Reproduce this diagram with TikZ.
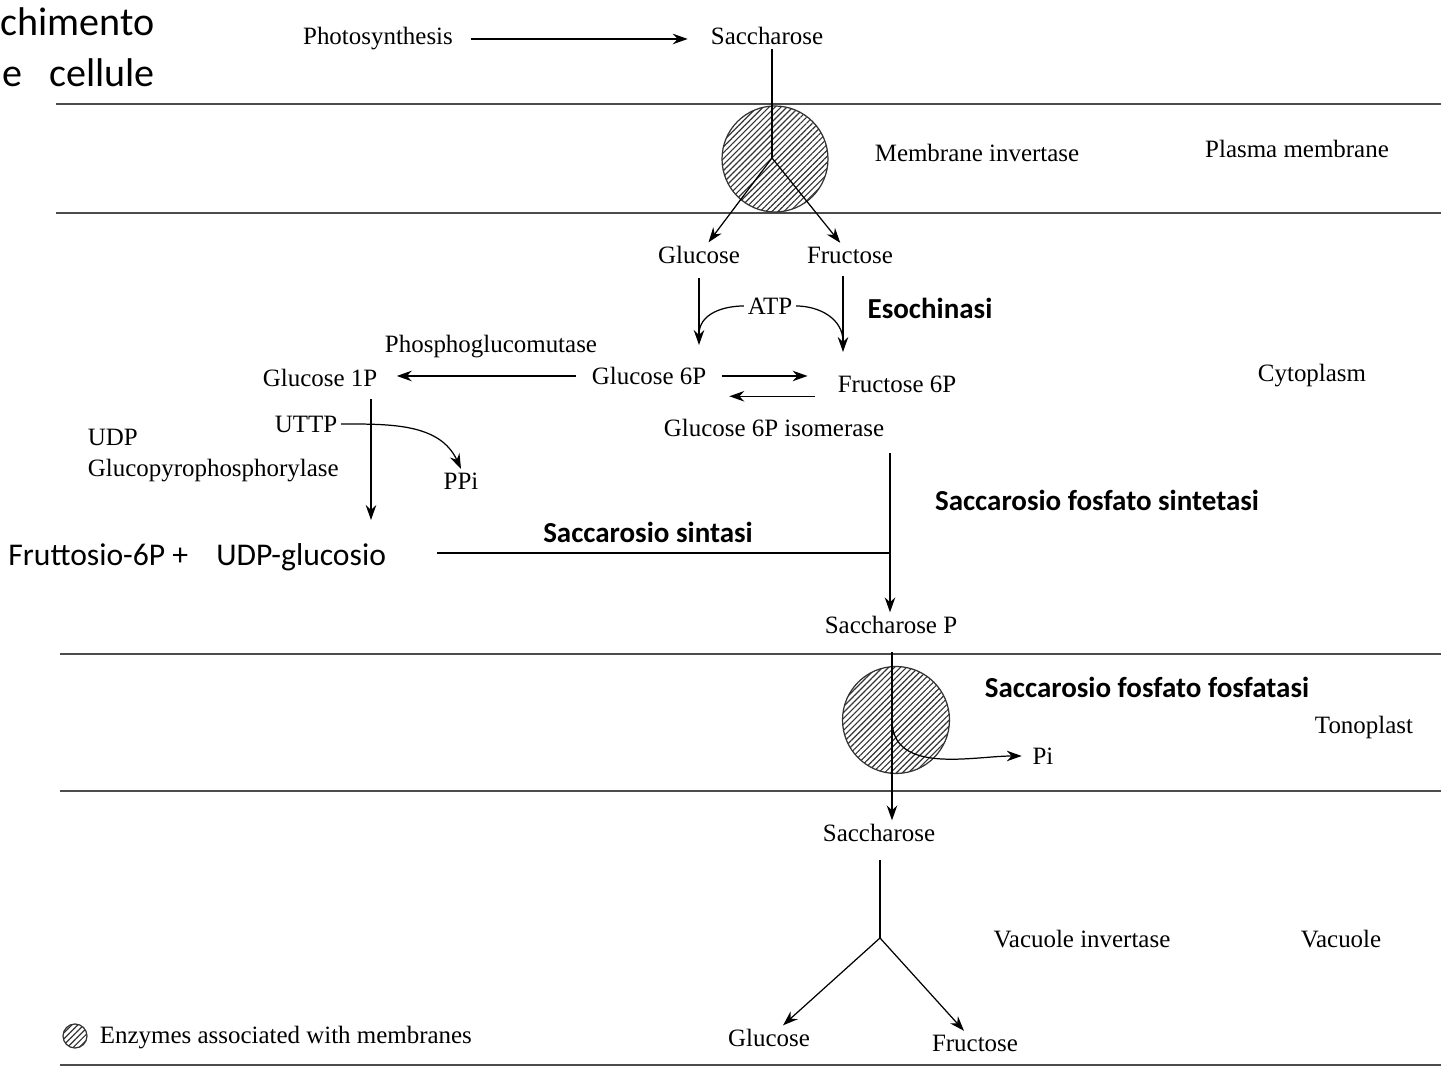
\documentclass[tikz,border=0pt]{standalone}
\usepackage{fontspec}
\setmainfont{Liberation Serif}
\newfontfamily\calibri{Carlito}
\usetikzlibrary{arrows.meta,patterns.meta}
\tikzset{
  txt/.style={font=\fontsize{14.2}{17.6}\selectfont, inner sep=2pt},
  enzname/.style={font=\calibri\bfseries\fontsize{16.5}{19}\selectfont, inner sep=2pt},
  ittxt/.style={font=\calibri\fontsize{18}{21}\selectfont, inner sep=0pt},
  slidetxt/.style={font=\calibri\fontsize{22.8}{26}\selectfont, inner sep=0pt},
  enzyme/.style={circle, draw=black!80, line width=0.7pt,
    pattern={Lines[angle=45, distance=2.4pt, line width=0.65pt]},
    pattern color=black!80, inner sep=0pt},
  memb/.style={black!70, line width=1.1pt},
  arr/.style={-{Stealth[length=8.5pt,width=6pt]}, line width=0.7pt},
  link/.style={line width=0.7pt},
}
\newcommand\Enzyme[3]{\node[enzyme, minimum size=#3] (#1) at (#2) {};}

\begin{document}
\begin{tikzpicture}[x=0.02cm, y=0.02cm]
\useasboundingbox (0,0) rectangle (1441,1067);
\clip (0,0) rectangle (1441,1067);

% membranes
\draw[memb] (56,963) -- (1441,963);
\draw[memb] (56,854) -- (1441,854);
\draw[memb] (60,413) -- (1441,413);
\draw[memb] (60,276) -- (1441,276);
\draw[memb] (60,2) -- (1441,2);

% leftover slide text
\node[slidetxt, anchor=base east] (slide1) at (155,1031) {chimento};
\node[slidetxt, anchor=base east] (slide2) at (155,980) {e\hspace{15pt}cellule};

% plasma membrane
\node[txt] (photo) at (378,1028) {Photosynthesis};
\node[txt] (sac1) at (767,1031) {Saccharose};
\Enzyme{inv1}{775,908}{2.12cm}
\coordinate (b1) at (772,909);
\node[txt] (meminv) at (977,914) {Membrane invertase};
\node[txt] (plasma) at (1297,918) {Plasma membrane};

% cytoplasm
\node[txt] (glc1) at (699,812) {Glucose};
\node[txt] (fru1) at (850,812) {Fructose};
\node[txt] (atp) at (770,761) {ATP};
\node[enzname] (esoch) at (930,759) {Esochinasi};
\coordinate (hkL) at (699,722);
\coordinate (hkR) at (843,715);
\node[txt] (pgm) at (491,720) {Phosphoglucomutase};
\node[txt] (g1p) at (320,689) {Glucose 1P};
\node[txt] (g6p) at (649,691) {Glucose 6P};
\node[txt] (f6p) at (897,683) {Fructose 6P};
\node[txt] (iso) at (774,639) {Glucose 6P isomerase};
\node[txt] (cyto) at (1312,691) {Cytoplasm};
\node[txt] (uttp) at (306,643) {UTTP};
\node[txt] (ppi) at (461,586) {PPi};
\node[txt, align=left, anchor=west] (udpgp) at (84,611) {UDP\\Glucopyrophosphorylase};
\coordinate (udpg) at (371,547);
\node[ittxt, anchor=west] (udpglc) at (8,510) {Fruttosio-6P +\hspace{16pt}UDP-glucosio};
\node[enzname] (sintasi) at (648,535) {Saccarosio sintasi};
\node[enzname] (sps) at (1097,567) {Saccarosio fosfato sintetasi};
\coordinate (sps0) at (890,614);
\coordinate (ss0) at (437,514);
\node[txt] (sacP) at (891,442) {Saccharose P};

% tonoplast
\Enzyme{inv2}{896,347}{2.14cm}
\coordinate (b2) at (892,347);
\node[txt] (pi) at (1043,311) {Pi};
\node[enzname] (spf) at (1147,380) {Saccarosio fosfato fosfatasi};
\node[txt] (tono) at (1364,339) {Tonoplast};

% vacuole
\node[txt] (sac2) at (879,234) {Saccharose};
\coordinate (b3) at (880,129);
\node[txt] (glc2) at (769,29) {Glucose};
\node[txt] (fru2) at (975,24) {Fructose};
\node[txt] (vacinv) at (1082,128) {Vacuole invertase};
\node[txt] (vac) at (1341,128) {Vacuole};

% legend
\Enzyme{legcirc}{75,31}{0.48cm}
\node[txt, anchor=west] (legend) at (96,29) {Enzymes associated with membranes};

% connectors
\draw[arr, shorten <=8pt, shorten >=11pt] (photo.east) -- (photo.east -| sac1.west);
\draw[link] (sac1.south -| b1) -- (b1);
\draw[arr] (b1) -- (glc1);
\draw[arr] (b1) -- (fru1);
\draw[arr, shorten <=6pt] (glc1.south) -- (hkL);
\draw[arr, shorten <=5pt] (fru1.south -| hkR) -- (hkR);
\draw[link] (atp.west) to[out=180, in=90] ([yshift=6pt]hkL);
\draw[link] (atp.east) to[out=0, in=90] ([yshift=6pt]hkR);
\draw[arr, shorten <=7pt, shorten >=9pt] (g6p.west) -- (g6p.west -| g1p.east);
\draw[arr, shorten <=7pt, shorten >=15pt] (g6p.east) -- (g6p.east -| f6p.west);
\draw[arr, shorten <=11pt, shorten >=11pt] ([yshift=-7pt]f6p.west) -- ([yshift=-7pt]f6p.west -| g6p.east);
\draw[arr, shorten <=5pt] (g1p.south -| udpg) -- (udpg);
\draw[arr] (uttp.east) to[out=0, in=115] (ppi.north);
\draw[link] (ss0) -- (ss0 -| sps0);
\draw[arr] (sps0) -- (sacP.north -| sps0);
\draw[arr, shorten <=8pt] (sacP.south -| b2) -- (sac2.north -| b2);
\draw[arr, shorten >=4pt] (b2) to[out=-90, in=180] (pi.west);
\draw[link, shorten <=8pt] (sac2.south -| b3) -- (b3);
\draw[arr] (b3) -- (glc2);
\draw[arr] (b3) -- (fru2);
\end{tikzpicture}
\end{document}
